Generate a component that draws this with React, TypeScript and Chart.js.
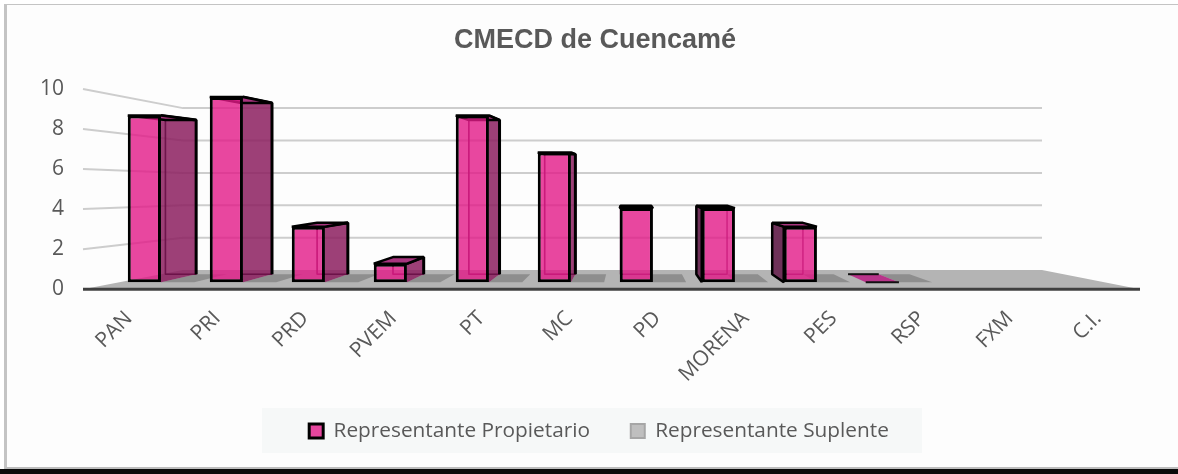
import React, { useEffect, useRef } from "react";
import { Chart, registerables } from "chart.js";

Chart.register(...registerables);

const categories = ["PAN", "PRI", "PRD", "PVEM", "PT", "MC", "PD", "MORENA", "PES", "RSP", "FXM", "C.I."];
const propietario = [9, 10, 3, 1, 9, 7, 4, 4, 3, 0, null, null];
const suplente = [0, 0, 0, 0, 0, 0, 0, 0, 0, 0, null, null];
const seriesNames = ["Representante Propietario", "Representante Suplente"];
const titleText = "CMECD de Cuencamé";
const yTicks = [0, 2, 4, 6, 8, 10];

const FONT = "'Open Sans', sans-serif";
const TEXT = "#595959";
const VX = 630;
const VY = 176;
const K = 0.075;
const BACK_LEFT = 183;
const BACK_RIGHT = 1042;

const back = (x: number, y: number): [number, number] => [x + K * (VX - x), y + K * (VY - y)];

const poly = (ctx: CanvasRenderingContext2D, pts: [number, number][], close = true) => {
  ctx.beginPath();
  pts.forEach((p, i) => (i ? ctx.lineTo(p[0], p[1]) : ctx.moveTo(p[0], p[1])));
  if (close) ctx.closePath();
};

const legendBackdrop = {
  id: "legendBackdrop",
  afterLayout(chart: any) {
    chart.legend.left += 4;
    chart.legend.right += 4;
  },
  beforeDraw(chart: any) {
    const { ctx } = chart;
    ctx.save();
    ctx.fillStyle = "#f6f8f8";
    ctx.fillRect(262, 408, 660, 45);
    ctx.restore();
  },
};

const depth3d = {
  id: "depth3d",
  beforeDatasetsDraw(chart: any) {
    const { ctx, chartArea, scales } = chart;
    const { left, right, bottom } = chartArea;
    const yFront = scales.y;
    const yBack = scales.yBack;
    const floorBack = yBack.getPixelForValue(0);
    ctx.save();
    ctx.lineJoin = "bevel";
    // floor
    poly(ctx, [[left, bottom], [right, bottom], [BACK_RIGHT, floorBack], [BACK_LEFT, floorBack]]);
    ctx.fillStyle = "#b4b4b4";
    ctx.fill();
    // walls
    ctx.strokeStyle = "#cdcdcd";
    ctx.lineWidth = 2;
    yTicks.forEach((v) => {
      const yb = yBack.getPixelForValue(v);
      if (v > 0) {
        poly(ctx, [[left, yFront.getPixelForValue(v)], [BACK_LEFT, yb], [BACK_RIGHT, yb]], false);
        ctx.stroke();
      }
    });
    // front floor edge
    ctx.strokeStyle = "#404040";
    ctx.lineWidth = 3;
    poly(ctx, [[left, bottom], [right, bottom]], false);
    ctx.stroke();

    // suplente: flat shadows on the floor
    chart.getDatasetMeta(1).data.forEach((bar: any, i: number) => {
      if (suplente[i] === null) return;
      const x1 = bar.x - bar.width / 2;
      const x2 = bar.x + bar.width / 2;
      const y = bar.base;
      poly(ctx, [[x1, y], [x2, y], back(x2, y), back(x1, y)]);
      ctx.fillStyle = "#8e8e8e";
      ctx.fill();
    });

    // propietario: boxes
    chart.getDatasetMeta(0).data.forEach((bar: any, i: number) => {
      if (propietario[i] === null) return;
      const x1 = bar.x - bar.width / 2;
      const x2 = bar.x + bar.width / 2;
      const yb = bar.base;
      const yt = bar.y;
      const ftl: [number, number] = [x1, yt];
      const ftr: [number, number] = [x2, yt];
      const fbl: [number, number] = [x1, yb];
      const fbr: [number, number] = [x2, yb];
      const btl = back(x1, yt);
      const btr = back(x2, yt);
      const bbl = back(x1, yb);
      const bbr = back(x2, yb);
      if (propietario[i] === 0) {
        poly(ctx, [fbl, fbr, bbr, bbl]);
        ctx.fillStyle = "#b8348a";
        ctx.fill();
        ctx.strokeStyle = "#111";
        ctx.lineWidth = 2;
        poly(ctx, [fbl, fbr], false);
        ctx.stroke();
        poly(ctx, [bbl, bbr], false);
        ctx.stroke();
        return;
      }
      // back edges
      ctx.strokeStyle = "rgba(90,10,60,0.75)";
      ctx.lineWidth = 1.5;
      poly(ctx, [btl, bbl, bbr, btr]);
      ctx.stroke();
      // side wall facing the viewer
      if (btr[0] > x2) {
        poly(ctx, [ftr, btr, bbr, fbr]);
        ctx.fillStyle = "rgba(140,30,95,0.85)";
        ctx.fill();
        ctx.strokeStyle = "rgba(90,10,60,0.6)";
        ctx.lineWidth = 1.5;
        poly(ctx, [btl, bbl, bbr], false);
        ctx.stroke();
        ctx.strokeStyle = "#000";
        ctx.lineWidth = 3;
        poly(ctx, [ftr, btr, bbr], false);
        ctx.stroke();
      }
      if (btl[0] < x1) {
        poly(ctx, [ftl, btl, bbl, fbl]);
        ctx.fillStyle = "#6f3159";
        ctx.fill();
        ctx.strokeStyle = "#000";
        ctx.lineWidth = 2.5;
        ctx.stroke();
      }
      // top
      poly(ctx, [ftl, ftr, btr, btl]);
      ctx.fillStyle = "#a8347e";
      ctx.fill();
      ctx.strokeStyle = "#000";
      ctx.lineWidth = 2.5;
      ctx.stroke();
    });
    ctx.restore();
  },
};

export default function App() {
  const ref = useRef<HTMLCanvasElement>(null);
  useEffect(() => {
    document.body.style.margin = "0";
    document.body.style.background = "#ffffff";
    const base = Chart.defaults.plugins.legend.labels.generateLabels;
    const chart = new Chart(ref.current!, {
      type: "bar",
      data: {
        labels: categories,
        datasets: [
          {
            label: seriesNames[0],
            data: propietario.map((v, i) => ({ x: i, y: v })),
            xAxisID: "xBars",
            yAxisID: "yBars",
            backgroundColor: "rgba(226,25,135,0.8)",
            borderColor: "#000000",
            borderWidth: 3,
            borderSkipped: false,
            categoryPercentage: 0.81,
            barPercentage: 1,
          },
          {
            label: seriesNames[1],
            data: suplente.map((v, i) => ({ x: i, y: v })),
            xAxisID: "xBars",
            yAxisID: "yBars",
            backgroundColor: "#bfbfbf",
            borderColor: "#a6a6a6",
            borderWidth: 2,
            borderSkipped: false,
            categoryPercentage: 0.81,
            barPercentage: 1,
          },
        ],
      } as any,
      plugins: [legendBackdrop, depth3d],
      options: {
        responsive: false,
        animation: false,
        layout: { padding: { left: 38, right: 26, top: 24, bottom: 22.5 } },
        plugins: {
          tooltip: { enabled: false },
          title: {
            display: true,
            text: titleText,
            color: TEXT,
            font: { family: "'Liberation Sans', sans-serif", size: 27, weight: "bold" },
            padding: { top: 0, bottom: 32.6 },
          },
          legend: {
            position: "bottom",
            labels: {
              color: TEXT,
              boxWidth: 14,
              boxHeight: 14,
              padding: 30,
              font: { family: FONT, size: 20.8 },
              generateLabels: (c: any) =>
                base(c).map((item: any, i: number) => (i === 0 ? { ...item, text: item.text + "\u00A0\u00A0" } : item)),
            },
          },
        },
        scales: {
          x: {
            type: "category",
            offset: true,
            grid: { display: false },
            border: { display: false },
            ticks: {
              autoSkip: false,
              maxRotation: 45,
              minRotation: 45,
              color: TEXT,
              padding: 9,
              labelOffset: 2,
              font: { family: FONT, size: 21 },
            },
            afterFit: (s: any) => {
              s.height = 101.5;
            },
          },
          y: {
            type: "linear",
            min: 0,
            max: 10,
            grid: { display: false },
            border: { display: false },
            afterBuildTicks: (s: any) => {
              s.ticks = yTicks.map((value) => ({ value }));
            },
            ticks: {
              color: TEXT,
              padding: 11,
              font: { family: FONT, size: 21 },
            },
            afterFit: (s: any) => {
              s.width = 45;
            },
          },
          yPad: {
            type: "linear",
            position: "right",
            display: true,
            grid: { display: false },
            border: { display: false },
            ticks: { display: false },
            afterFit: (s: any) => {
              s.width = 12;
            },
          },
          xBars: {
            type: "linear",
            display: false,
            offset: false,
            min: -0.951,
            max: 11.94,
            grid: { display: false },
            ticks: { stepSize: 1, includeBounds: false },
          },
          yBars: { type: "linear", display: false, position: "left", min: -0.38, max: 10.435, grid: { display: false } },
          yBack: { type: "linear", display: false, position: "left", min: -1.18, max: 11.18, grid: { display: false } },
        },
      } as any,
    });
    return () => chart.destroy();
  }, []);
  return (
    <div style={{ position: "relative", width: 1178, height: 474, overflow: "hidden", background: "#fff" }}>
      <div
        style={{
          position: "absolute",
          left: 4,
          top: 4,
          width: 1174,
          height: 465,
          boxSizing: "border-box",
          background: "#fdfdfd",
          borderTop: "1px solid #c4c4c4",
          borderLeft: "3px solid #c4c4c4",
          borderBottom: "2px solid #bdbdbd",
        }}
      />
      <div style={{ position: "absolute", left: 0, top: 469, width: 1178, height: 5, background: "#0a0a0a" }} />
      <canvas ref={ref} width={1178} height={474} style={{ position: "absolute", left: 0, top: 0, display: "block" }} />
    </div>
  );
}
